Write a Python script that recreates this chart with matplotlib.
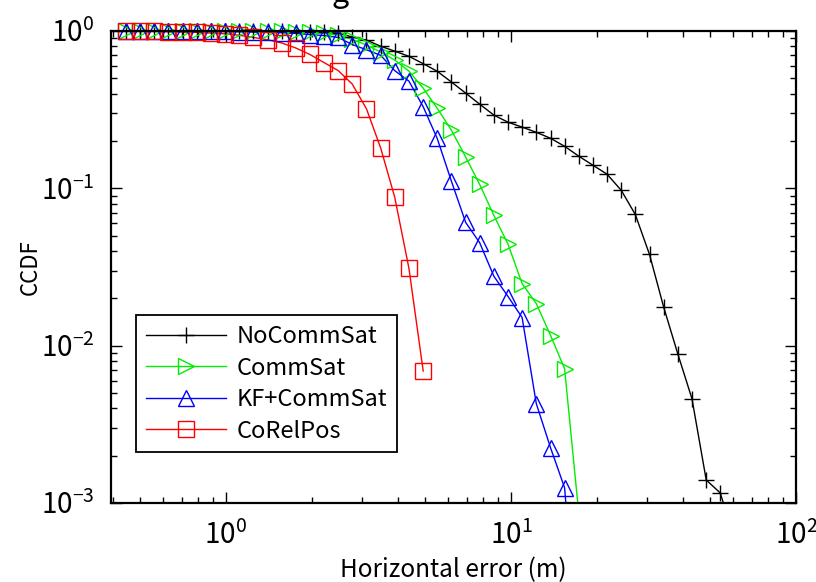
import numpy as np
import matplotlib
matplotlib.use('Agg')
import matplotlib.pyplot as plt
from matplotlib.lines import Line2D

# ---- data ----
x_bins = [0.446, 0.500, 0.560, 0.628, 0.704, 0.789, 0.885, 0.992, 1.112, 1.247,
          1.399, 1.567, 1.758, 1.968, 2.208, 2.477, 2.773, 3.112, 3.491, 3.908,
          4.385, 4.920, 5.508, 6.180, 6.934, 7.762, 8.710, 9.772, 10.94, 12.27,
          13.77, 15.42, 17.30, 19.41, 21.73, 24.38, 27.29, 30.62, 34.36, 38.46,
          43.15, 48.42, 54.20, 60.80]

nocommsat = [1.0, 1.0, 1.0, 1.0, 1.0, 0.999, 0.999, 0.998, 0.997, 0.996,
             0.995, 0.993, 0.99, 0.985, 0.98, 0.97, 0.915, 0.875, 0.80, 0.745,
             0.69, 0.62, 0.555, 0.474, 0.403, 0.343, 0.292, 0.263, 0.245, 0.227,
             0.208, 0.185, 0.160, 0.140, 0.123, 0.097, 0.0683, 0.038, 0.0175, 0.0089,
             0.0046, 0.0014, 0.00116, 0.0006]

commsat = [1.0, 1.0, 1.0, 1.0, 1.0, 1.0, 0.999, 0.999, 0.998, 0.997,
           0.996, 0.994, 0.99, 0.98, 0.965, 0.94, 0.885, 0.814, 0.735, 0.654,
           0.556, 0.433, 0.323, 0.234, 0.158, 0.106, 0.0672, 0.044, 0.0248, 0.0185,
           0.0116, 0.00714, 0.00085]

kf_commsat = [1.0, 1.0, 1.0, 0.999, 0.998, 0.997, 0.995, 0.993, 0.99, 0.985,
              0.98, 0.975, 0.965, 0.95, 0.935, 0.91, 0.82, 0.76, 0.70, 0.56,
              0.48, 0.33, 0.208, 0.111, 0.0607, 0.0452, 0.0276, 0.0205, 0.0151, 0.00428,
              0.00224, 0.00125, 0.0001]

corelpos = [1.0, 1.0, 0.995, 0.99, 0.985, 0.98, 0.97, 0.96, 0.94, 0.91,
            0.88, 0.84, 0.78, 0.71, 0.63, 0.56, 0.46, 0.32, 0.18, 0.088,
            0.031, 0.0069]

series_names = ['NoCommSat', 'CommSat', 'KF+CommSat', 'CoRelPos']
series_vals = [nocommsat, commsat, kf_commsat, corelpos]
series_colors = ['#000000', '#00ee00', '#0000ff', '#ff0000']
series_markers = ['+', '>', '^', 's']

x_label = 'Horizontal error (m)'
y_label = 'CCDF'
title_fragment = 'g'

# ---- plotting ----
plt.rcParams['font.family'] = ['Noto Sans CJK JP', 'DejaVu Sans']
plt.rcParams['axes.unicode_minus'] = False

fig = plt.figure(figsize=(8.16, 5.82), dpi=100)
ax = fig.add_axes([111 / 816, 1 - 503 / 582, 685 / 816, 472 / 582])

YMIN, YMAX = 1e-3, 1.0
handles = []
for name, vals, col, mk in zip(series_names, series_vals, series_colors, series_markers):
    xs = np.array(x_bins[:len(vals)])
    ys = np.array(vals)
    ax.plot(xs, ys, color=col, lw=1.0, clip_on=True, zorder=3)
    m = ys >= YMIN
    ax.plot(xs[m], ys[m], ls='none', marker=mk, ms=12, mfc='none', mec=col,
            mew=1.0, clip_on=False, zorder=4)
    handles.append(Line2D([], [], color=col, lw=1.0, marker=mk, ms=12,
                          mfc='none', mec=col, mew=1.0))

ax.set_xscale('log')
ax.set_yscale('log')
ax.set_xlim(0.395, 100)
ax.set_ylim(YMIN, YMAX)

for s in ax.spines.values():
    s.set_linewidth(1.6)
    s.set_zorder(5)

ax.tick_params(which='both', direction='in', top=True, right=True, width=1.0)
ax.tick_params(which='major', length=8, labelsize=20)
ax.tick_params(which='minor', length=4.5)
ax.tick_params(axis='x', which='major', pad=13)
ax.tick_params(axis='y', which='major', pad=12)

ax.set_xlabel(x_label, fontsize=17.5, va='top')
ax.xaxis.set_label_coords(0.5, -0.115)
ax.set_ylabel(y_label, fontsize=16)
ax.yaxis.set_label_coords(-0.101, 0.5)

leg = ax.legend(handles, series_names, loc='upper left',
                bbox_to_anchor=(0.0365, 0.398), fontsize=17, numpoints=1,
                handlelength=3.4, handletextpad=0.45, labelspacing=0.36,
                borderpad=0.42, borderaxespad=0, fancybox=False,
                edgecolor='black', framealpha=1)
leg.get_frame().set_linewidth(1.3)

# partially visible title glyph at the very top edge (cut off as in the reference)
fig.text(340 / 816, 1 - 2 / 582, title_fragment, fontsize=22, ha='center', va='baseline')

fig.savefig('out.png', dpi=100)
